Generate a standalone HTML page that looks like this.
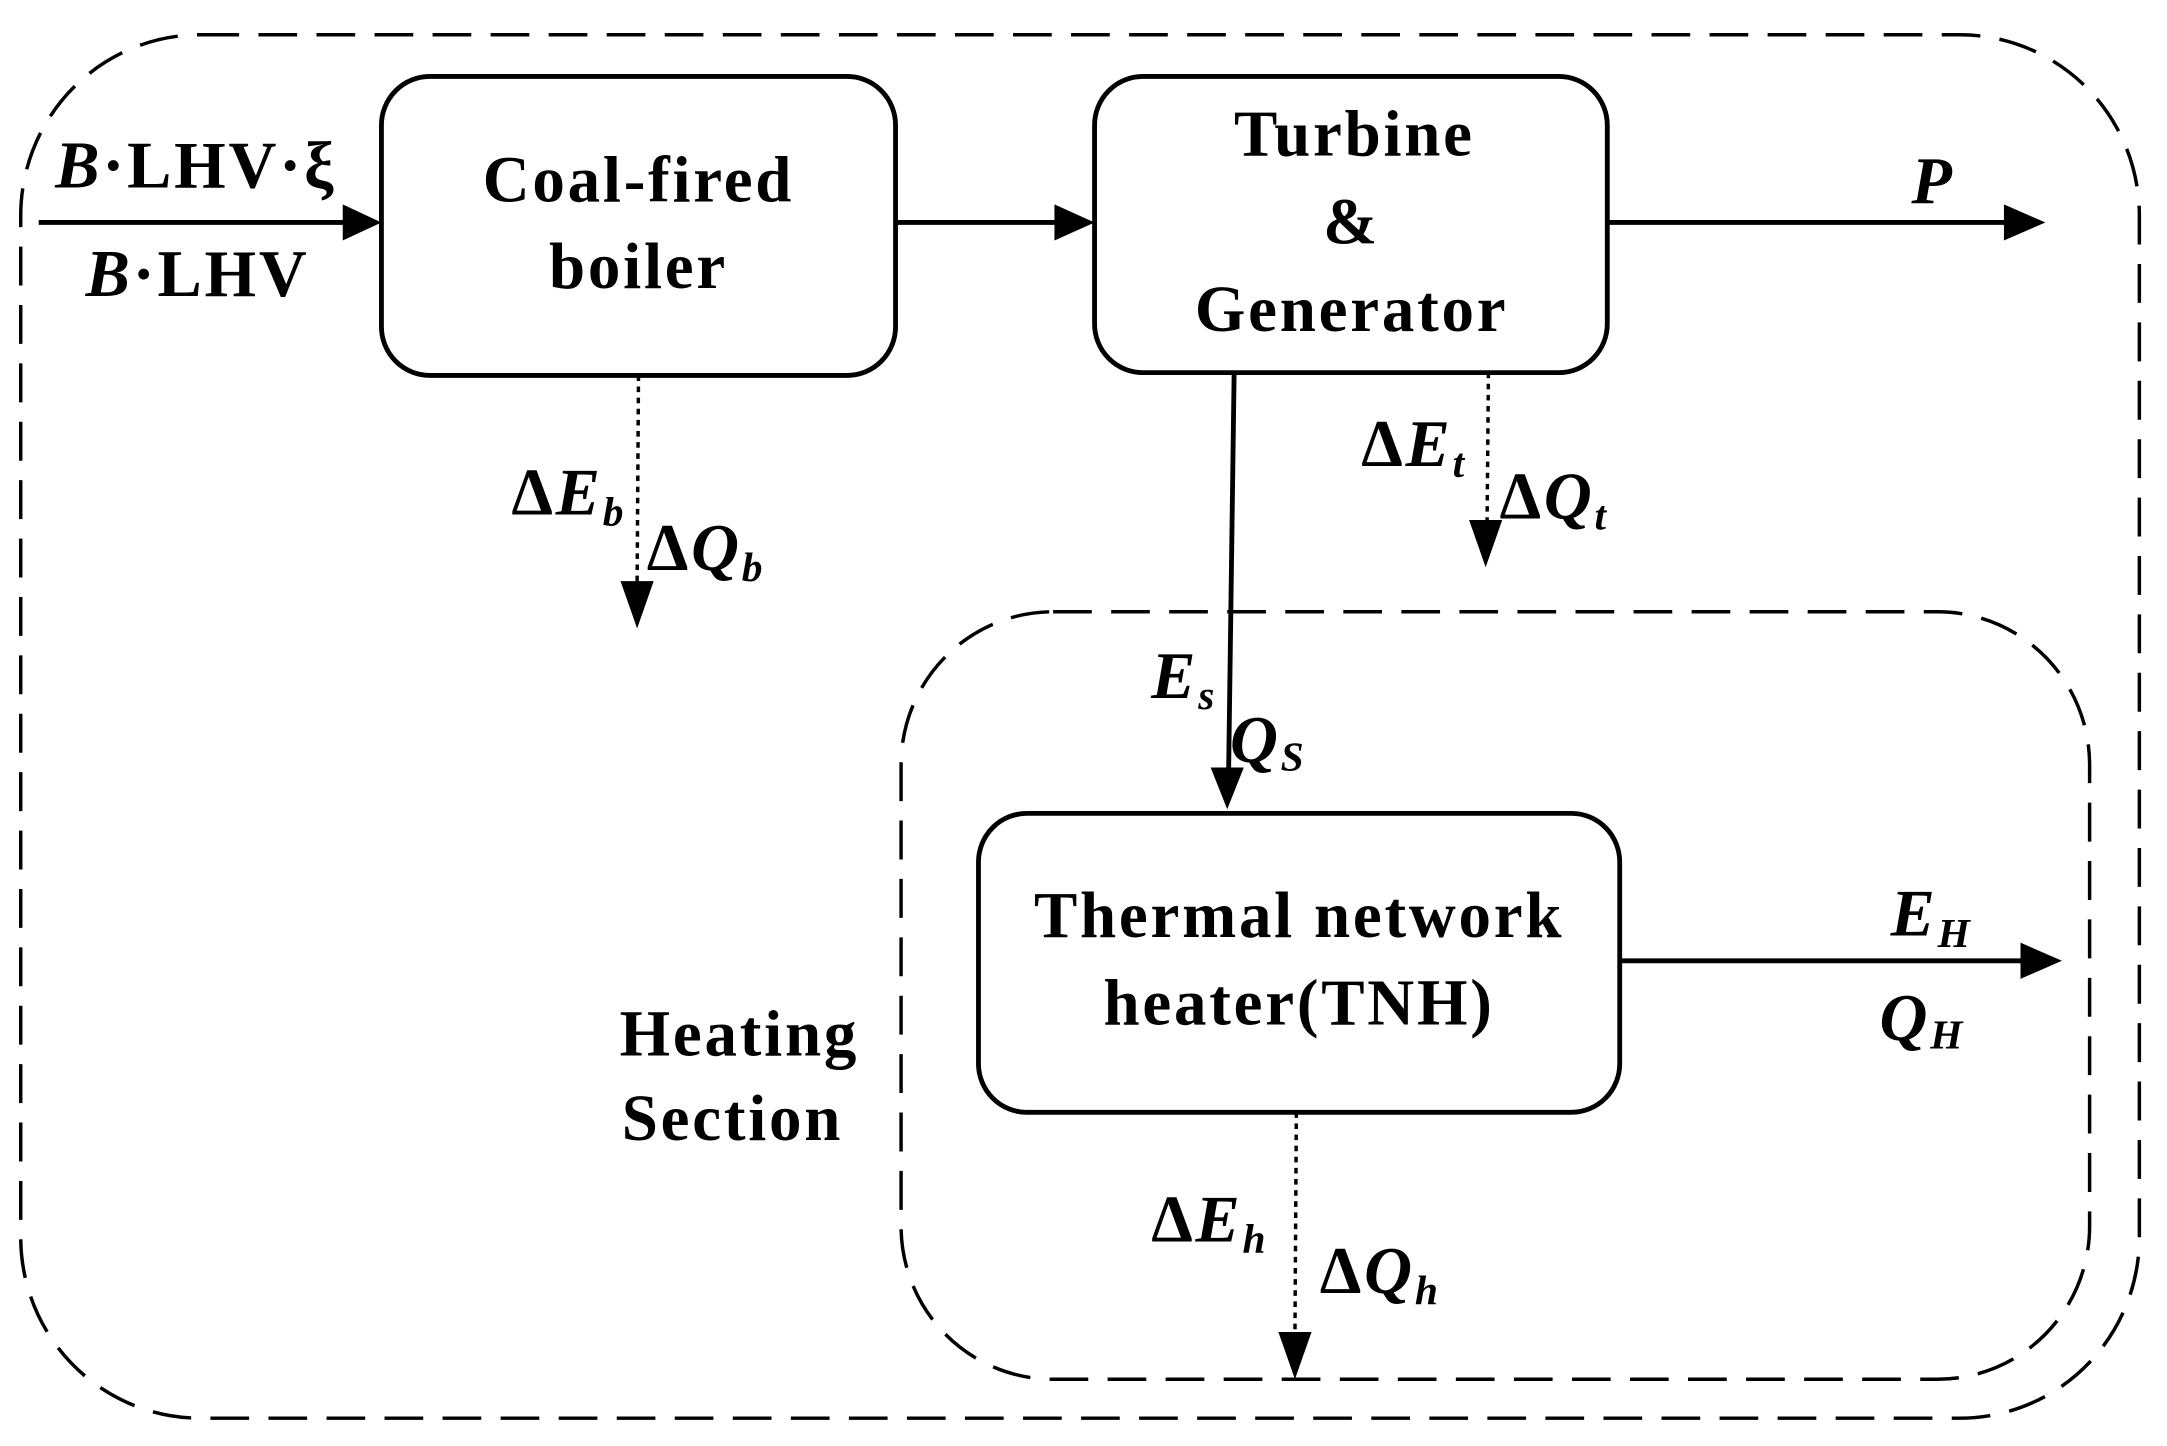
<!DOCTYPE html>
<html><head><meta charset="utf-8"><style>
html,body{margin:0;padding:0;background:#fff;}
svg{display:block;}
text{font-family:"Liberation Serif",serif;font-weight:bold;fill:#000;}
</style></head><body>
<svg width="2167" height="1446" viewBox="0 0 1568 1040" preserveAspectRatio="none" xmlns="http://www.w3.org/2000/svg">
<g fill="none" stroke="#000" stroke-width="2.5" stroke-dasharray="28,14">
<rect x="15" y="25" width="1533" height="995" rx="130" ry="130"/>
<rect x="652" y="440" width="860" height="552" rx="110" ry="110"/>
</g>
<g fill="#fff" stroke="#000" stroke-width="3.5">
<rect x="276" y="55" width="372" height="215" rx="35"/>
<rect x="792" y="55" width="371" height="213" rx="35"/>
<rect x="708" y="585" width="464" height="215" rx="35"/>
</g>
<g stroke="#000" stroke-width="3.5">
<line x1="28" y1="160" x2="250" y2="160"/>
<line x1="648" y1="160" x2="765" y2="160"/>
<line x1="1163" y1="160" x2="1452" y2="160"/>
<line x1="893" y1="268" x2="889" y2="555"/>
<line x1="1172" y1="691" x2="1464" y2="691"/>
</g>
<g stroke="#000" stroke-width="2.5" stroke-dasharray="4,4">
<line x1="462" y1="270" x2="461" y2="420"/>
<line x1="1077" y1="268" x2="1076" y2="378"/>
<line x1="938" y1="800" x2="937" y2="960"/>
</g>
<g fill="#000">
<polygon points="276,160 248,147 248,173"/>
<polygon points="792,160 763,147 763,173"/>
<polygon points="1480,160 1450,147 1450,173"/>
<polygon points="1492,691 1462,678 1462,704"/>
<polygon points="888,582 876,552 900,552"/>
<polygon points="461,452 449,418 473,418"/>
<polygon points="1075,408 1063,374 1087,374"/>
<polygon points="937,992 925,958 949,958"/>
</g>
<g font-size="47" text-anchor="middle" letter-spacing="2">
<text x="462" y="145">Coal-fired</text>
<text x="462" y="207">boiler</text>
<text x="980" y="112">Turbine</text>
<text x="978" y="175">&amp;</text>
<text x="978" y="238">Generator</text>
<text x="940" y="674">Thermal network</text>
<text x="940" y="737">heater(TNH)</text>
<text x="535" y="759">Heating</text>
<text x="530" y="820">Section</text>
</g>
<g font-size="48" letter-spacing="2">
<text x="40" y="135"><tspan font-style="italic">B</tspan>·LHV·ξ</text>
<text x="62" y="213"><tspan font-style="italic">B</tspan>·LHV</text>
<text x="1383" y="146" font-style="italic">P</text>
<text x="370" y="370">Δ<tspan font-style="italic">E</tspan><tspan font-style="italic" font-size="30" dy="8">b</tspan></text>
<text x="468" y="410">Δ<tspan font-style="italic">Q</tspan><tspan font-style="italic" font-size="30" dy="8">b</tspan></text>
<text x="985" y="335">Δ<tspan font-style="italic">E</tspan><tspan font-style="italic" font-size="30" dy="8">t</tspan></text>
<text x="1085" y="373">Δ<tspan font-style="italic">Q</tspan><tspan font-style="italic" font-size="30" dy="8">t</tspan></text>
<text x="833" y="502" font-style="italic">E<tspan font-size="30" dy="8">s</tspan></text>
<text x="890" y="548" font-style="italic">Q<tspan font-size="30" dy="6">S</tspan></text>
<text x="1368" y="673" font-style="italic">E<tspan font-size="30" dy="8">H</tspan></text>
<text x="1360" y="748" font-style="italic">Q<tspan font-size="30" dy="6">H</tspan></text>
<text x="833" y="893">Δ<tspan font-style="italic">E</tspan><tspan font-style="italic" font-size="30" dy="8">h</tspan></text>
<text x="955" y="930">Δ<tspan font-style="italic">Q</tspan><tspan font-style="italic" font-size="30" dy="8">h</tspan></text>
</g>
</svg>
</body></html>
